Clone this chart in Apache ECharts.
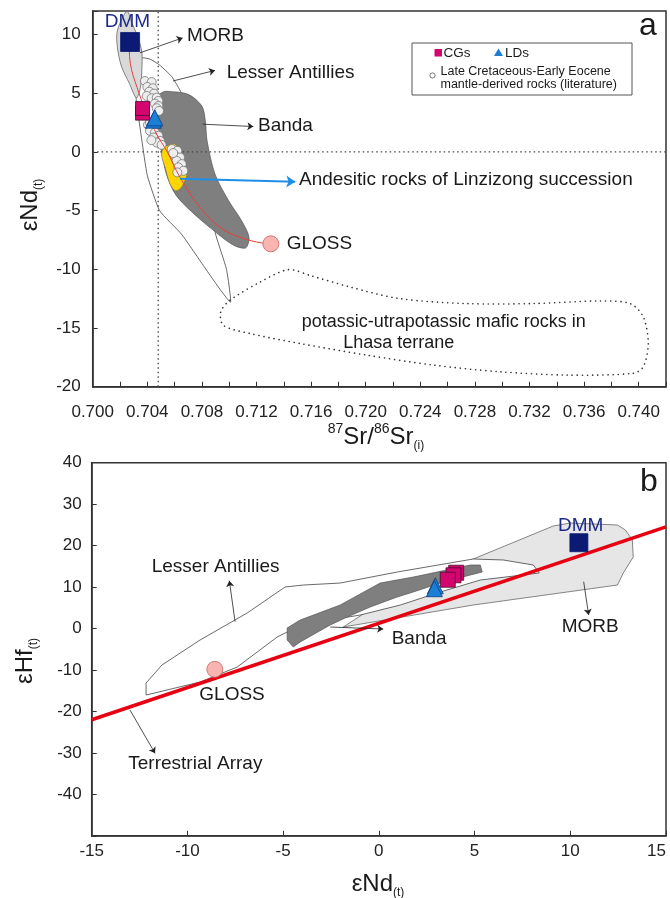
<!DOCTYPE html>
<html><head><meta charset="utf-8">
<script src="https://cdn.jsdelivr.net/npm/echarts/dist/echarts.min.js"></script>
<style>html,body{margin:0;padding:0;background:#fff}#c{width:670px;height:898px}</style>
</head><body><div id="c"></div>
<script>
// ---------- Panel a : 87Sr/86Sr(i) vs eNd(t) ----------
const morbA = [[0.7024,11.9],[0.7018,10.3],[0.7018,9.0],[0.7021,7.3],[0.7027,5.8],[0.7032,4.6],[0.7035,5.5],[0.7036,7.0],[0.7036,8.5],[0.7033,9.8],[0.7028,11.2],[0.7026,11.9]];
const lesserA = [[0.7035,8.0],[0.7042,7.9],[0.7049,7.4],[0.7058,6.4],[0.7065,5.0],[0.7075,1.8],[0.7082,-2.5],[0.7090,-7.0],[0.7098,-10.0],[0.7101,-12.8],[0.7092,-11.5],[0.7080,-9.5],[0.7065,-7.0],[0.7049,-5.0],[0.7040,-2.0],[0.7036,1.0],[0.7032,4.3],[0.7031,6.5]];
const bandaA = [[0.70560,5.15],[0.70700,4.90],[0.70800,3.90],[0.70825,2.64],[0.70838,0.94],[0.70895,-1.86],[0.70995,-4.15],[0.71090,-5.85],[0.71145,-7.27],[0.71120,-8.18],[0.71025,-7.90],[0.70870,-6.55],[0.70725,-5.10],[0.70608,-3.65],[0.70540,-1.90],[0.70503,0.09],[0.70460,2.05],[0.70445,3.74],[0.70468,4.70],[0.70520,5.12]];
const andesiteA = [[0.70542,0.52],[0.70603,0.66],[0.70662,-0.33],[0.70689,-1.88],[0.70676,-2.45],[0.70640,-3.16],[0.70603,-3.30],[0.70566,-2.71],[0.70530,-1.32],[0.70505,-0.33],[0.70517,0.37]];
const potassicA = [[0.71006,-12.64],[0.71226,-11.09],[0.71433,-10.03],[0.71592,-10.52],[0.71885,-11.51],[0.72251,-12.50],[0.72740,-12.92],[0.73228,-12.92],[0.73717,-12.70],[0.73937,-12.92],[0.74034,-14.06],[0.74070,-16.32],[0.74034,-18.30],[0.73960,-18.86],[0.73473,-19.01],[0.72984,-18.73],[0.72495,-18.16],[0.72007,-17.31],[0.71519,-16.32],[0.71152,-15.47],[0.70957,-14.77],[0.70938,-13.63]];
const literatureA = [[0.70383,6.04],[0.70432,5.95],[0.70400,5.53],[0.70440,5.42],[0.70415,5.13],[0.70449,4.96],[0.70396,4.76],[0.70432,4.57],[0.70469,4.62],[0.70481,4.34],[0.70456,4.11],[0.70481,3.91],[0.70469,3.72],[0.70486,3.49],[0.70405,2.30],[0.70420,2.50],[0.70444,2.07],[0.70420,1.79],[0.70456,1.65],[0.70481,1.37],[0.70444,1.22],[0.70493,0.94],[0.70469,0.80],[0.70505,0.60],[0.70430,1.00],[0.70579,0.24],[0.70620,0.09],[0.70603,-0.33],[0.70640,-0.48],[0.70615,-0.76],[0.70652,-1.04],[0.70627,-1.32],[0.70664,-1.61],[0.70620,-1.75],[0.70590,-0.10]];
const mixingA = [[0.70274,9.36],[0.70268,8.73],[0.70359,4.34],[0.70469,1.51],[0.70542,0.09],[0.70640,-2.17],[0.70786,-4.72],[0.70933,-6.42],[0.71080,-7.27],[0.71248,-7.78],[0.71305,-7.83]];
const dmmA = [[0.70274,9.36]];
const cgsA = [[0.70365,3.30],[0.70365,3.70]];
const ldsA = [[0.70445,2.70],[0.70455,2.90]];
const glossA = [[0.71305,-7.83]];
const refXA = 0.7048;   // vertical dotted reference
const refYA = 0;        // horizontal dotted reference
const arrowsA = [
  [[0.70347,8.44],[0.70659,9.71]],
  [[0.70588,6.04],[0.70896,6.94]],
  [[0.70806,2.36],[0.71177,2.16]]
];
const arrowBlueA = [[0.70640,-2.28],[0.71484,-2.54]];

// ---------- Panel b : eNd(t) vs eHf(t) ----------
const morbB = [[-1.86,0.36],[4.93,5.67],[12.46,10.49],[12.77,13.39],[13.29,17.25],[13.24,21.35],[12.88,23.76],[12.46,24.97],[10.0,25.45],[9.11,24.73],[4.93,16.77],[1.12,9.29]];
const lesserB = [[-12.16,-16.04],[-12.16,-13.15],[-11.33,-8.80],[-9.34,-2.77],[-6.88,3.74],[-4.90,10.01],[-3.95,10.49],[-2.02,10.97],[0.96,13.63],[4.93,16.77],[6.50,16.53],[8.07,15.32],[8.38,13.39],[5.30,11.70],[3.21,8.81],[1.12,5.67],[-0.97,3.26],[-2.54,2.05],[-4.11,0.84],[-4.79,-0.85],[-5.31,-2.05],[-7.40,-9.29],[-9.34,-12.91]];
const bandaB = [[-4.79,0.12],[-4.11,2.05],[-2.02,5.67],[0.07,10.98],[1.80,12.42],[4.78,15.32],[5.30,15.32],[5.40,13.63],[4.78,12.91],[3.21,10.98],[1.80,8.81],[0.96,7.60],[-0.45,5.19],[-1.65,2.78],[-2.54,0.85],[-4.11,-3.26],[-4.47,-4.46],[-4.79,-2.77]];
const terrestrialB = [[-15,-22.0],[15,24.5]];
const dmmB = [[10.45,20.7]];
const cgsB = [[4.04,13.46],[3.90,12.84],[3.60,11.77]];
const ldsB = [[2.95,10.3],[2.90,9.6]];
const glossB = [[-8.57,-9.84]];
const arrowsB = [
  [[-7.51,1.64],[-7.81,11.53]],
  [[-13.0,-19.66],[-11.69,-30.11]],
  [[-2.54,0.36],[0.23,-0.12]],
  [[10.70,11.29],[10.96,3.26]]
];

const FONT = '"Liberation Sans", Arial, sans-serif';
const AX = '#333';

function poly(pts, xi, yi, style, z, smooth) {
  return {
    type: 'custom', xAxisIndex: xi, yAxisIndex: yi, z: z, silent: true, clip: true,
    data: [pts[0]],
    renderItem: function (params, api) {
      return { type: 'polygon', shape: { points: pts.map(function (p) { return api.coord(p); }), smooth: smooth || 0 }, style: style };
    }
  };
}
function scat(data, xi, yi, symbol, size, color, border, z) {
  return { type: 'scatter', xAxisIndex: xi, yAxisIndex: yi, data: data, symbol: symbol, symbolSize: size, z: z, silent: true,
    itemStyle: { color: color, borderColor: border, borderWidth: 0.8, opacity: 1 } };
}
function line(data, xi, yi, color, width, type, z, smooth) {
  return { type: 'line', xAxisIndex: xi, yAxisIndex: yi, data: data, symbol: 'none', smooth: smooth || false, z: z, silent: true,
    lineStyle: { color: color, width: width, type: type } };
}
function arrows(list, xi, yi, color, width, size, z) {
  return { type: 'lines', coordinateSystem: 'cartesian2d', xAxisIndex: xi, yAxisIndex: yi, z: z, silent: true,
    symbol: ['none', 'arrow'], symbolSize: size,
    lineStyle: { color: color, width: width, opacity: 1, curveness: 0 },
    data: list.map(function (c) { return { coords: c }; }) };
}
function txt(x, y, s, size, extra) {
  const st = Object.assign({ text: s, fontSize: size, fontFamily: FONT, fill: '#1a1a1a', align: 'left', verticalAlign: 'middle' }, extra || {});
  return { type: 'text', x: x, y: y, z: 100, style: st };
}
const axisCommon = {
  axisLine: { show: true, onZero: false, lineStyle: { color: AX, width: 1.5 } },
  axisTick: { show: true, inside: true, length: 5, lineStyle: { color: AX, width: 1 } },
  splitLine: { show: false }
};
const richTitle = {
  b: { fontSize: 24, fontFamily: FONT, fill: '#1a1a1a', lineHeight: 30, verticalAlign: 'middle' },
  sup: { fontSize: 14, fontFamily: FONT, fill: '#1a1a1a', lineHeight: 30, verticalAlign: 'top' },
  sub: { fontSize: 12, fontFamily: FONT, fill: '#1a1a1a', lineHeight: 30, verticalAlign: 'bottom' },
  e: { fontSize: 24, fontFamily: FONT, fill: '#1a1a1a', lineHeight: 30, verticalAlign: 'middle' }
};

const chart = echarts.init(document.getElementById('c'), null, { renderer: 'canvas' });
chart.setOption({
  animation: false,
  backgroundColor: '#fff',
  grid: [
    { left: 92.7, top: 11, width: 573.3, height: 375.7, show: true, borderColor: AX, borderWidth: 1.5, backgroundColor: 'transparent', containLabel: false, outerBoundsMode: 'none' },
    { left: 91.7, top: 462.7, width: 574.3, height: 373.1, show: true, borderColor: AX, borderWidth: 1.5, backgroundColor: 'transparent', containLabel: false, outerBoundsMode: 'none' }
  ],
  xAxis: [
    Object.assign({ gridIndex: 0, type: 'value', min: 0.700, max: 0.742, interval: 0.002,
      axisLabel: { margin: 17, fontSize: 17, color: '#222', fontFamily: FONT,
        formatter: function (v) { return Math.round(v * 1000) % 4 === 0 ? v.toFixed(3) : ''; } } }, axisCommon),
    Object.assign({ gridIndex: 1, type: 'value', min: -15, max: 15, interval: 5,
      axisLabel: { margin: 7, fontSize: 17, color: '#222', fontFamily: FONT, alignMaxLabel: 'right' } }, axisCommon)
  ],
  yAxis: [
    Object.assign({ gridIndex: 0, type: 'value', min: -20, max: 12, interval: 5,
      axisLabel: { margin: 12, fontSize: 17, color: '#222', fontFamily: FONT,
        formatter: function (v) { return v > 10 ? '' : String(v); } } }, axisCommon),
    Object.assign({ gridIndex: 1, type: 'value', min: -50, max: 40, interval: 10,
      axisLabel: { margin: 10, fontSize: 17, color: '#222', fontFamily: FONT,
        formatter: function (v) { return v < -40 ? '' : String(v); } } }, axisCommon)
  ],
  series: [
    // panel a
    poly(lesserA, 0, 0, { fill: '#ffffff', stroke: '#444', lineWidth: 0.8 }, 1, 0.15),
    poly(morbA, 0, 0, { fill: '#d9d9d9', stroke: '#555', lineWidth: 0.7 }, 2, 0.3),
    poly(bandaA, 0, 0, { fill: '#7f7f7f', stroke: '#555', lineWidth: 0.7 }, 3, 0.3),
    poly(andesiteA, 0, 0, { fill: '#ffd500', stroke: '#666', lineWidth: 0.6 }, 4, 0.3),
    poly(potassicA, 0, 0, { fill: 'none', stroke: '#333', lineWidth: 1.6, lineDash: [0.1, 5], lineCap: 'round' }, 4, 0.3),
    line([[refXA, -20], [refXA, 12]], 0, 0, '#444', 1.3, [1.5, 3], 3),
    line([[0.700, refYA], [0.742, refYA]], 0, 0, '#444', 1.3, [1.5, 3], 3),
    scat(literatureA, 0, 0, 'circle', 9, '#eeeeee', '#777', 5),
    line(mixingA, 0, 0, '#e8403a', 1, 'solid', 6, 0.4),
    scat(dmmA, 0, 0, 'rect', 19, '#0b1a72', '#0b1a72', 8),
    scat(cgsA, 0, 0, 'rect', 14, '#d3066f', '#4a0a2a', 8),
    scat(ldsA, 0, 0, 'triangle', 16, '#1b7fd6', '#0c3c80', 9),
    scat(glossA, 0, 0, 'circle', 16, '#f8b4b0', '#c86060', 8),
    arrows(arrowsA, 0, 0, '#222', 0.8, 6, 10),
    arrows([arrowBlueA], 0, 0, '#1e8fe6', 2, 9, 10),
    // panel b
    poly(morbB, 1, 1, { fill: '#e6e6e6', stroke: '#555', lineWidth: 0.7 }, 1, 0),
    poly(lesserB, 1, 1, { fill: '#ffffff', stroke: '#444', lineWidth: 0.8 }, 2, 0),
    poly(bandaB, 1, 1, { fill: '#7f7f7f', stroke: '#555', lineWidth: 0.7 }, 3, 0),
    line(terrestrialB, 1, 1, '#e60012', 3.5, 'solid', 5),
    scat(dmmB, 1, 1, 'rect', 18, '#0b1a72', '#0b1a72', 8),
    scat(cgsB, 1, 1, 'rect', 15, '#d3066f', '#4a0a2a', 8),
    scat(ldsB, 1, 1, 'triangle', 16, '#1b7fd6', '#0c3c80', 9),
    scat(glossB, 1, 1, 'circle', 16, '#f8b4b0', '#c86060', 8),
    arrows(arrowsB, 1, 1, '#222', 0.8, 6, 10)
  ],
  graphic: [
    // axis titles
    txt(376, 437, '{sup|87}{b|Sr/}{sup|86}{b|Sr}{sub|(i)}', 24, { align: 'center', rich: richTitle }),
    Object.assign(txt(30, 205, '{e|εNd}{sub|(t)}', 24, { align: 'center', rich: richTitle }), { rotation: Math.PI / 2 }),
    txt(378, 884, '{e|εNd}{sub|(t)}', 24, { align: 'center', rich: richTitle }),
    Object.assign(txt(25, 661, '{e|εHf}{sub|(t)}', 24, { align: 'center', rich: richTitle }), { rotation: Math.PI / 2 }),
    // panel letters
    txt(648, 26, 'a', 32, { align: 'center' }),
    txt(649, 482, 'b', 32, { align: 'center' }),
    // panel a annotations
    txt(127.5, 21.5, 'DMM', 19, { align: 'center', fill: '#1c2a8a' }),
    txt(187, 35.5, 'MORB', 19),
    txt(226.7, 72.7, 'Lesser Antillies', 19),
    txt(258, 126, 'Banda', 19),
    txt(299, 180, 'Andesitic rocks of Linzizong succession', 19),
    txt(286.7, 243.7, 'GLOSS', 19),
    txt(301.7, 321.7, 'potassic-utrapotassic mafic rocks in', 18),
    txt(343.3, 343.3, 'Lhasa terrane', 18),
    // legend
    { type: 'rect', z: 100, shape: { x: 412, y: 43, width: 220, height: 52 }, style: { fill: '#fff', stroke: '#555', lineWidth: 1 } },
    { type: 'rect', z: 101, shape: { x: 434.5, y: 49, width: 7.5, height: 7.5 }, style: { fill: '#d3066f' } },
    txt(443.5, 53, 'CGs', 13.5),
    { type: 'polygon', z: 101, shape: { points: [[498.5, 48.5], [503, 56], [494, 56]] }, style: { fill: '#1b7fd6' } },
    txt(505, 53, 'LDs', 13.5),
    { type: 'circle', z: 101, shape: { cx: 432.5, cy: 75.5, r: 2.6 }, style: { fill: '#fff', stroke: '#555', lineWidth: 0.8 } },
    txt(440.5, 71.5, 'Late Cretaceous-Early Eocene', 12.5),
    txt(440.5, 85, 'mantle-derived rocks (literature)', 12.5),
    // panel b annotations
    txt(580.7, 526, 'DMM', 19, { align: 'center', fill: '#1c2a8a' }),
    txt(151.7, 566.7, 'Lesser Antillies', 19),
    txt(199.3, 695, 'GLOSS', 19),
    txt(128.3, 763.3, 'Terrestrial Array', 19),
    txt(391.7, 639, 'Banda', 19),
    txt(561.7, 626.7, 'MORB', 19)
  ]
});
</script>
</body></html>
